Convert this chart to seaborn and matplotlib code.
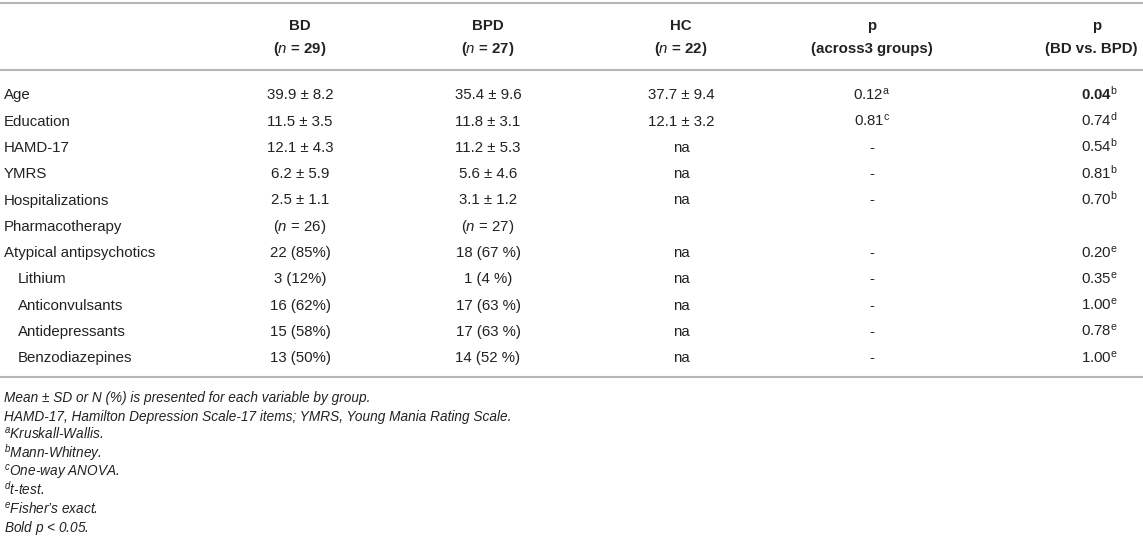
import matplotlib
matplotlib.use("Agg")
import matplotlib.pyplot as plt
import seaborn as sns

# table content
col_heads = ["BD", "BPD", "HC", "p", "p"]
col_subs = ["($n$ = 29)", "($n$ = 27)", "($n$ = 22)", "(across3 groups)", "(BD vs. BPD)"]

labels = ["Age", "Education", "HAMD-17", "YMRS", "Hospitalizations", "Pharmacotherapy",
          "Atypical antipsychotics", "Lithium", "Anticonvulsants", "Antidepressants",
          "Benzodiazepines"]
indent = [0, 0, 0, 0, 0, 0, 0, 1, 1, 1, 1]

bd = ["39.9 ± 8.2", "11.5 ± 3.5", "12.1 ± 4.3", "6.2 ± 5.9", "2.5 ± 1.1", "($n$ = 26)",
      "22 (85%)", "3 (12%)", "16 (62%)", "15 (58%)", "13 (50%)"]
bpd = ["35.4 ± 9.6", "11.8 ± 3.1", "11.2 ± 5.3", "5.6 ± 4.6", "3.1 ± 1.2", "($n$ = 27)",
       "18 (67 %)", "1 (4 %)", "17 (63 %)", "17 (63 %)", "14 (52 %)"]
hc = ["37.7 ± 9.4", "12.1 ± 3.2", "na", "na", "na", "", "na", "na", "na", "na", "na"]
p_across = ["0.12", "0.81", "-", "-", "-", "", "-", "-", "-", "-", "-"]
p_across_sup = ["a", "c", "", "", "", "", "", "", "", "", ""]
p_bd = ["0.04", "0.74", "0.54", "0.81", "0.70", "", "0.20", "0.35", "1.00", "0.78", "1.00"]
p_bd_sup = ["b", "d", "b", "b", "b", "", "e", "e", "e", "e", "e"]

notes = ["Mean ± SD or N (%) is presented for each variable by group.",
         "HAMD-17, Hamilton Depression Scale-17 items; YMRS, Young Mania Rating Scale.",
         "${}^{a}$Kruskall-Wallis.",
         "${}^{b}$Mann-Whitney.",
         "${}^{c}$One-way ANOVA.",
         "${}^{d}$t-test.",
         "${}^{e}$Fisher\u2019s exact.",
         "Bold $p$ < 0.05."]

sns.set_theme(style="white")
plt.rcParams["font.family"] = ["Liberation Sans", "DejaVu Sans"]
plt.rcParams["mathtext.fontset"] = "custom"
plt.rcParams["mathtext.rm"] = "Liberation Sans"
plt.rcParams["mathtext.it"] = "Liberation Sans:italic"
plt.rcParams["mathtext.bf"] = "Liberation Sans:bold"

W, H = 1143, 546
fig = plt.figure(figsize=(W / 100, H / 100), dpi=100)
ax = fig.add_axes([0, 0, 1, 1])
ax.set_xlim(0, W)
ax.set_ylim(H, 0)
ax.axis("off")

txt = "#222222"
rule = "#b5b5b5"
fs = 10.8
col_x = [300, 488, 681, 872, 1097]
sub_x = [300, 488, 681, 872, 1091]
base = 5.3  # centre -> baseline offset

# rules
for y in [3, 70, 377]:
    ax.axhline(y, color=rule, lw=1.5)

# header
for x, xs, h, s in zip(col_x, sub_x, col_heads, col_subs):
    ax.text(x, 25 + base, h, ha="center", va="baseline", fontsize=fs, fontweight="bold", color=txt)
    ax.text(xs, 48 + base, s, ha="center", va="baseline", fontsize=fs, fontweight="bold", color=txt)

# body
y0, dy = 94, 26.3
for i, lab in enumerate(labels):
    y = y0 + i * dy + base
    ax.text(4 + 14 * indent[i], y, lab, ha="left", va="baseline", fontsize=fs, color=txt)
    for x, v in zip(col_x[:3], [bd[i], bpd[i], hc[i]]):
        ax.text(x, y, v, ha="center", va="baseline", fontsize=fs, color=txt)
    v = p_across[i]
    if p_across_sup[i]:
        v = v + r"$^{\mathrm{%s}}$" % p_across_sup[i]
    ax.text(col_x[3], y, v, ha="center", va="baseline", fontsize=fs, color=txt)
    if p_bd[i]:
        num = p_bd[i]
        if float(num) < 0.05:
            s = r"$\mathbf{%s}^{\mathrm{%s}}$" % (num, p_bd_sup[i])
        else:
            s = num + r"$^{\mathrm{%s}}$" % p_bd_sup[i]
        ax.text(col_x[4] + 2, y, s, ha="center", va="baseline", fontsize=fs, color=txt)

# footnotes
for j, n in enumerate(notes):
    ax.text(4, 397 + 4.9 + j * 18.6, n, ha="left", va="baseline", fontsize=9.8,
            fontstyle="italic", color=txt)

fig.savefig("out.png", dpi=100)
